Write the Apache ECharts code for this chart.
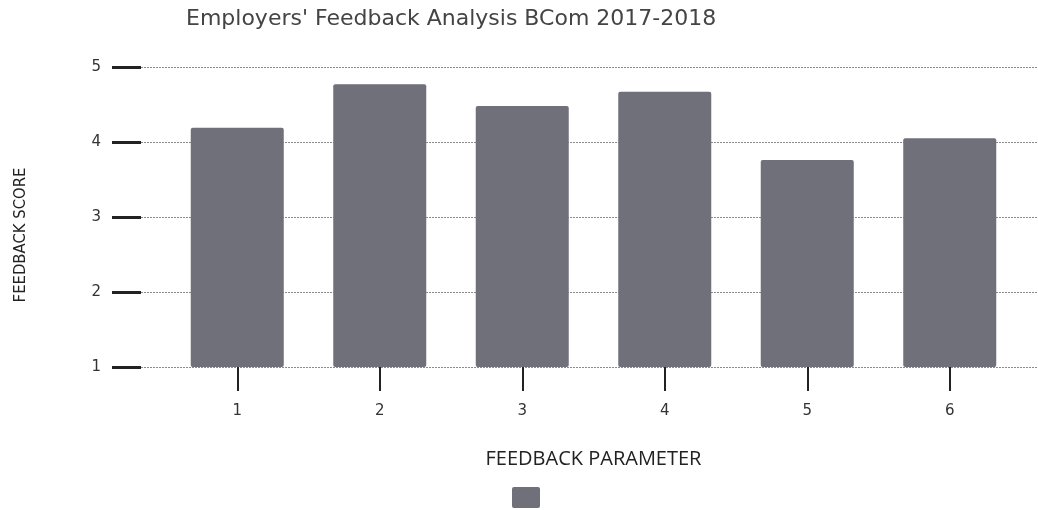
<!DOCTYPE html>
<html>
<head>
<meta charset="utf-8" />
<title>Employers' Feedback Analysis</title>
<script src="https://cdn.jsdelivr.net/npm/echarts@6/dist/echarts.min.js"></script>
<style>
  html, body { margin: 0; padding: 0; background: #fff; }
  #chart { width: 1038px; height: 510px; }
</style>
</head>
<body>
<div id="chart"></div>
<script>
// data
const params = ['1', '2', '3', '4', '5', '6'];
const scores = [4.19, 4.77, 4.48, 4.67, 3.76, 4.05];
const scoreMin = 1;
const scoreMax = 5;

const chart = echarts.init(document.getElementById('chart'));

const option = {
  animation: false,
  title: {
    text: "Employers' Feedback Analysis BCom 2017-2018",
    left: 186,
    top: 8,
    padding: 0,
    textStyle: {
      fontFamily: 'DejaVu Sans',
      fontSize: 22,
      fontWeight: 'normal',
      color: '#444'
    }
  },
  legend: {
    left: 512,
    top: 487,
    padding: 0,
    itemWidth: 28,
    itemHeight: 21,
    itemGap: 0,
    icon: 'path://M2,0 L26,0 Q28,0 28,2 L28,19 Q28,21 26,21 L2,21 Q0,21 0,19 L0,2 Q0,0 2,0 Z',
    data: [' '],
    textStyle: { fontSize: 1 }
  },
  // grid 0 : the y scale with its long dotted lines, grid 1 : the bars
  grid: [
    { left: 141, right: 0, top: 67, bottom: 143 },
    { left: 166, right: 17, top: 67, bottom: 143 }
  ],
  xAxis: [
    { gridIndex: 0, type: 'value', min: 0, max: 1, show: false },
    {
      gridIndex: 1,
      type: 'category',
      data: params,
      name: 'FEEDBACK PARAMETER',
      nameLocation: 'middle',
      nameGap: 82,
      nameTextStyle: { fontFamily: 'Open Sans', fontSize: 20, color: '#222' },
      axisLine: { show: false },
      axisTick: {
        show: true,
        alignWithLabel: true,
        length: 24,
        lineStyle: { color: '#222', width: 2 }
      },
      axisLabel: {
        margin: 37,
        fontFamily: 'DejaVu Sans',
        fontSize: 15,
        color: '#333'
      },
      splitLine: { show: false }
    }
  ],
  yAxis: [
    {
      gridIndex: 0,
      type: 'value',
      min: scoreMin,
      max: scoreMax,
      interval: 1,
      name: 'FEEDBACK SCORE',
      nameLocation: 'middle',
      nameGap: 112,
      nameTextStyle: {
        fontFamily: 'DejaVu Sans Condensed',
        fontSize: 16.5,
        color: '#222',
        padding: [0, 36, 0, 0]
      },
      axisLine: { show: false },
      axisTick: {
        show: true,
        length: 29,
        lineStyle: { color: '#222', width: 3 }
      },
      axisLabel: {
        margin: 40,
        fontFamily: 'DejaVu Sans',
        fontSize: 15,
        color: '#333'
      },
      splitLine: {
        show: true,
        lineStyle: { color: '#8a8a8a', width: 1, type: [2, 1] }
      }
    },
    { gridIndex: 1, type: 'value', min: scoreMin, max: scoreMax, show: false }
  ],
  series: [
    {
      name: ' ',
      type: 'bar',
      xAxisIndex: 1,
      yAxisIndex: 1,
      data: scores,
      barWidth: 93,
      itemStyle: {
        color: '#6f7079',
        borderRadius: 2
      }
    }
  ]
};

chart.setOption(option);
</script>
</body>
</html>
